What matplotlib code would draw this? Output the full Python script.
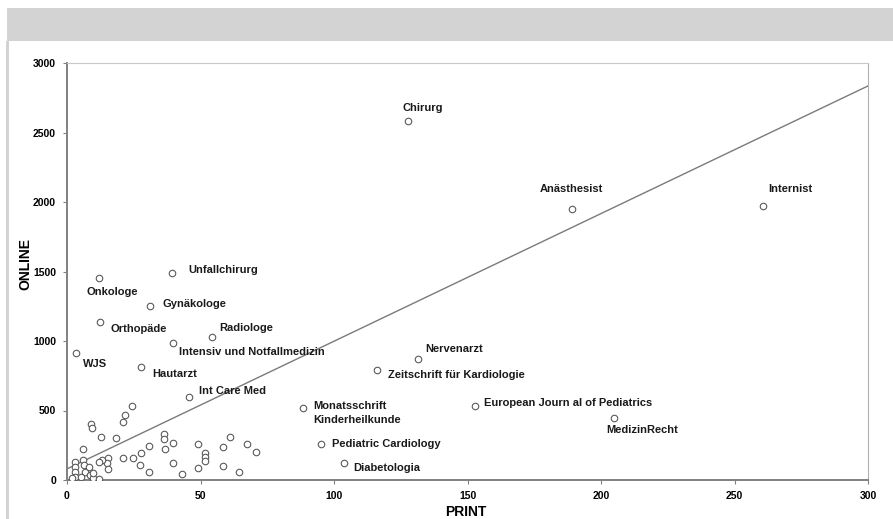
import matplotlib
matplotlib.use("Agg")
import matplotlib.pyplot as plt
from matplotlib.patches import Rectangle

plt.rcParams['font.family'] = ['Liberation Sans', 'DejaVu Sans']

# labelled journals: PRINT vs ONLINE
names = ["Chirurg", "Anästhesist", "Internist", "Unfallchirurg", "Onkologe",
         "Gynäkologe", "Orthopäde", "Radiologe", "Intensiv und Notfallmedizin",
         "WJS", "Hautarzt", "Int Care Med", "Monatsschrift\nKinderheilkunde",
         "Pediatric Cardiology", "Diabetologia", "Nervenarzt",
         "Zeitschrift für Kardiologie", "European Journ al of Pediatrics",
         "MedizinRecht"]
print_vals = [127.7, 189.1, 260.7, 39.3, 12.0, 31.1, 12.4, 54.3, 39.7,
              3.4, 27.7, 45.7, 88.4, 95.1, 103.7, 131.5, 116.1, 152.8, 204.9]
online_vals = [2583, 1950, 1971, 1489, 1453, 1252, 1137, 1029, 986,
               914, 813, 597, 518, 259, 122, 870, 791, 532, 446]

# unlabelled journals near the origin
cluster_print = [24.3, 21.7, 21.0, 9.0, 9.4, 12.7, 18.4, 36.3, 36.3, 39.7,
                 36.7, 30.7, 27.7, 24.7, 21.0, 27.3, 30.7, 39.7, 43.1, 49.1,
                 51.7, 51.7, 51.7, 49.1, 58.4, 61.0, 67.4, 70.8, 58.4, 64.4,
                 15.4, 15.0, 13.1, 12.0, 15.4, 6.0, 6.0, 6.4, 3.0, 3.0,
                 3.0, 6.7, 8.6, 9.7, 12.0, 3.0, 5.2, 8.2, 9.7, 1.9]
cluster_online = [532, 468, 417, 403, 374, 309, 302, 331, 295, 266,
                  223, 245, 194, 158, 158, 108, 58, 122, 43, 259,
                  194, 165, 137, 86, 237, 309, 259, 201, 101, 58,
                  158, 122, 144, 130, 79, 223, 144, 108, 130, 94,
                  58, 58, 36, 14, 7, 22, 22, 94, 50, 14]

# trend line end points
trend_x = [0, 300]
trend_y = [80, 2835]

x_ticks = [0, 50, 100, 150, 200, 250, 300]
y_ticks = [0, 500, 1000, 1500, 2000, 2500, 3000]

# label offsets in pixels (dx, dy) from the marker, text left-aligned
offsets = [(-5, 13), (-32, 20), (5, 17), (16, 3), (-13, -14),
           (12, 2), (10, -7), (7, 9), (6, -9),
           (7, -11), (11, -7), (10, 6), (10, -5),
           (11, 0), (9, -5), (7, 10),
           (11, -5), (9, 3), (-8, -12)]

W, H = 893, 519
fig = plt.figure(figsize=(W / 100, H / 100), dpi=100)

# grey frame: top band and left edge
fig.patches.append(Rectangle((7 / W, 1 - 41 / H), 1 - 7 / W, 33 / H,
                             transform=fig.transFigure, facecolor='#d3d3d3',
                             edgecolor='none', zorder=0))
fig.patches.append(Rectangle((6 / W, 0), 2.5 / W, 1 - 41 / H,
                             transform=fig.transFigure, facecolor='#d3d3d3',
                             edgecolor='none', zorder=0))

ax = fig.add_axes([67 / W, (H - 480) / H, 801 / W, 417 / H])
ax.set_xlim(0, 300)
ax.set_ylim(0, 3000)
ax.set_xticks(x_ticks)
ax.set_yticks(y_ticks)
ax.tick_params(axis='both', labelsize=7.5, length=3, width=0.8,
               color='#808080', pad=5)
for lab in ax.get_xticklabels() + ax.get_yticklabels():
    lab.set_fontweight('bold')
    lab.set_fontstretch('condensed')

ax.spines['left'].set_color('#808080')
ax.spines['bottom'].set_color('#808080')
ax.spines['left'].set_linewidth(1.4)
ax.spines['bottom'].set_linewidth(1.4)
ax.spines['top'].set_color('#c8c8c8')
ax.spines['right'].set_color('#b0b0b0')

ax.plot(trend_x, trend_y, color='#7a7a7a', linewidth=1.0, zorder=2)

ax.scatter(cluster_print, cluster_online, s=22, facecolors='white',
           edgecolors='#5a5a5a', linewidths=0.8, zorder=3)
ax.scatter(print_vals, online_vals, s=22, facecolors='white',
           edgecolors='#5a5a5a', linewidths=0.8, zorder=3)

for name, px, py, (dx, dy) in zip(names, print_vals, online_vals, offsets):
    ax.annotate(name, (px, py), xytext=(dx, dy), textcoords='offset pixels',
                ha='left', va='center', fontsize=8, fontweight='bold',
                color='#1a1a1a', linespacing=1.6, zorder=4)

fig.text(25 / W, 1 - 264 / H, "ONLINE", rotation=90, ha='center', va='center',
         fontsize=10, fontweight='bold')
fig.text(466 / W, 1 - 505 / H, "PRINT", ha='center', va='top',
         fontsize=10, fontweight='bold')

fig.savefig("out.png", dpi=100)
